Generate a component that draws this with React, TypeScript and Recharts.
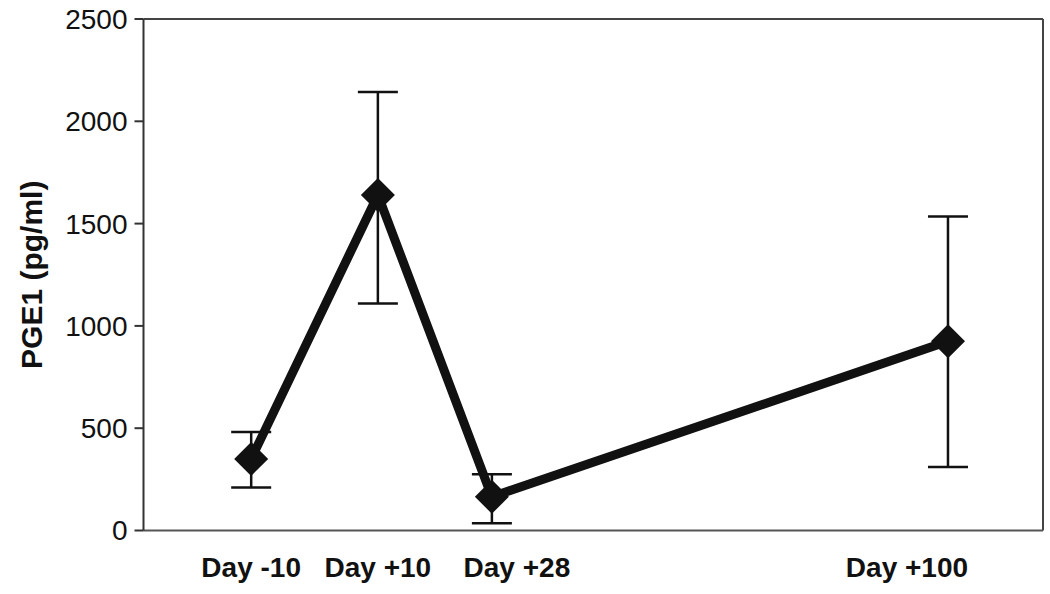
import React from 'react';
import {
  ComposedChart,
  Line,
  XAxis,
  YAxis,
  ErrorBar,
  ReferenceLine
} from 'recharts';

// sampling days and the labels under them
const days = [-10, 10, 28, 100];
const dayLabels = ['Day -10', 'Day +10', 'Day +28', 'Day +100'];

// PGE1 mean (pg/ml) and error bar lengths below / above the mean
const pgeMean = [350, 1640, 165, 925];
const errBelow = [140, 530, 130, 615];
const errAbove = [132, 503, 110, 610];

const yTicks = [0, 500, 1000, 1500, 2000, 2500];
const xDomain = [-27, 115];

const data = days.map((d, i) => ({
  day: d,
  pge: pgeMean[i],
  err: [errBelow[i], errAbove[i]]
}));

const INK = '#111111';
const FONT = '"Liberation Sans", Arial, sans-serif';

// labels in the original are not exactly centred on the points
const labelShift: Record<number, number> = { 28: 25, 100: -41 };

function DayTick(props: any) {
  const { x, y, payload } = props;
  const i = days.indexOf(payload.value);
  return (
    <text
      x={x + (labelShift[payload.value] || 0)}
      y={y}
      dy="0.71em"
      textAnchor="middle"
      fontFamily={FONT}
      fontSize={28}
      fontWeight={700}
      fill={INK}
    >
      {dayLabels[i]}
    </text>
  );
}

function Diamond(props: any) {
  const { cx, cy, index } = props;
  if (cx == null || cy == null) return null;
  const r = 17;
  return (
    <polygon
      key={`d-${index}`}
      points={`${cx},${cy - r} ${cx + r},${cy} ${cx},${cy + r} ${cx - r},${cy}`}
      fill={INK}
    />
  );
}

export default function App() {
  return (
    <div style={{ position: 'absolute', left: 0, top: 0, width: 1050, height: 594, background: '#fff' }}>
      <ComposedChart
        width={1050}
        height={594}
        data={data}
        margin={{ top: 19, right: 7, left: 0, bottom: 23.5 }}
      >
        <XAxis
          dataKey="day"
          type="number"
          domain={xDomain}
          ticks={days}
          tick={<DayTick />}
          tickLine={false}
          tickSize={0}
          tickMargin={27}
          height={40}
          axisLine={{ stroke: '#555', strokeWidth: 2 }}
        />
        <YAxis
          type="number"
          domain={[0, 2500]}
          ticks={yTicks}
          width={143.5}
          tickSize={9}
          tickMargin={7}
          axisLine={{ stroke: '#333', strokeWidth: 2 }}
          tickLine={{ stroke: '#333', strokeWidth: 2 }}
          tick={{ fontFamily: FONT, fontSize: 28, fill: INK }}
          label={{
            value: 'PGE1 (pg/ml)',
            angle: -90,
            position: 'insideLeft',
            offset: 31,
            style: {
              textAnchor: 'middle',
              fontFamily: FONT,
              fontSize: 30,
              fontWeight: 700,
              fill: INK
            }
          }}
        />
        {/* box frame: top and right edges */}
        <ReferenceLine y={2500} stroke="#444" strokeWidth={2} />
        <ReferenceLine x={xDomain[1]} stroke="#444" strokeWidth={2} />
        <Line
          dataKey="pge"
          type="linear"
          stroke={INK}
          strokeWidth={9}
          dot={<Diamond />}
          activeDot={false}
          isAnimationActive={false}
        >
          <ErrorBar dataKey="err" width={20} stroke={INK} strokeWidth={2.5} direction="y" />
        </Line>
      </ComposedChart>
    </div>
  );
}
